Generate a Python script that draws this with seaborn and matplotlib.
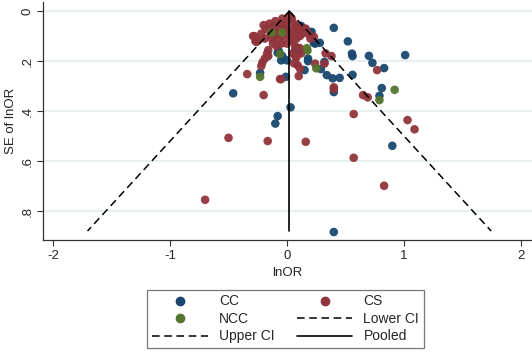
import numpy as np
import pandas as pd
import matplotlib
matplotlib.use('Agg')
import matplotlib.pyplot as plt
import seaborn as sns
from matplotlib.lines import Line2D

# study estimates (lnOR, SE of lnOR)
cc_lnor = [0.40, 0.52, 0.555, 0.56, 0.70, 0.73, 1.01, 0.83, 0.56, 0.45, 0.39, 0.34, 0.29,
           0.23, 0.28, 0.20, 0.12, 0.18, 0.18, 0.15, 0.09, 0.07, -0.05, 0.00, -0.08, -0.01,
           0.81, 0.79, 0.40, 0.03, -0.08, -0.10, 0.90, 0.40, 0.32, -0.46, -0.23, -0.06,
           0.21, 0.24, -0.07, -0.04, 0.11]
cc_se = [0.067, 0.121, 0.170, 0.180, 0.179, 0.207, 0.176, 0.228, 0.255, 0.267, 0.269, 0.256, 0.232,
         0.127, 0.127, 0.089, 0.059, 0.190, 0.200, 0.236, 0.150, 0.155, 0.197, 0.197, 0.167, 0.263,
         0.308, 0.339, 0.324, 0.385, 0.420, 0.450, 0.539, 0.884, 0.203, 0.329, 0.247, 0.172,
         0.083, 0.130, 0.160, 0.180, 0.160]

cs_lnor = [0.23, 0.38, 0.33, 0.32, 0.24, 0.12, 0.05, 0.11, 0.10, 0.06, -0.06, -0.05, 0.40, 0.40,
           0.65, 0.69, 0.77, 0.57, 1.03, 1.09, 0.16, -0.165, 0.57, 0.83, -0.70, -0.34, -0.20,
           -0.50, -0.28, -0.26, -0.20, -0.22, -0.21, -0.19, -0.17, -0.16, 0.09, -0.29, -0.25,
           -0.27, -0.18, -0.15, -0.12, -0.10, -0.08, -0.06, -0.04, -0.02, 0.00, 0.02, 0.04,
           0.06, 0.08, 0.10, 0.14, 0.16, -0.14, -0.10, -0.07, -0.03, 0.01, 0.03, 0.05, 0.08,
           0.11, -0.12, -0.09, -0.05, 0.00, 0.07, 0.11, 0.08, 0.07, -0.16, -0.02, -0.19, -0.22,
           0.13, 0.18, 0.20, -0.13, -0.11, 0.04, 0.06, -0.01]
cs_se = [0.103, 0.180, 0.169, 0.210, 0.210, 0.169, 0.169, 0.230, 0.260, 0.209, 0.272, 0.272, 0.312,
         0.305, 0.336, 0.345, 0.236, 0.412, 0.436, 0.473, 0.523, 0.520, 0.587, 0.699, 0.755, 0.252,
         0.336, 0.507, 0.100, 0.123, 0.056, 0.220, 0.205, 0.190, 0.170, 0.156, 0.216, 0.100,
         0.115, 0.120, 0.070, 0.050, 0.060, 0.040, 0.070, 0.050, 0.030, 0.060, 0.040, 0.020,
         0.030, 0.050, 0.060, 0.080, 0.070, 0.070, 0.090, 0.100, 0.110, 0.100, 0.090, 0.110,
         0.120, 0.110, 0.100, 0.130, 0.140, 0.130, 0.130, 0.140, 0.148, 0.185, 0.180, 0.180,
         0.080, 0.110, 0.090, 0.090, 0.090, 0.110, 0.110, 0.080, 0.075, 0.090, 0.055]

ncc_lnor = [-0.13, -0.04, -0.06, 0.17, 0.175, 0.25, 0.92, 0.79, -0.23]
ncc_se = [0.086, 0.086, 0.172, 0.148, 0.158, 0.229, 0.315, 0.356, 0.263]

pooled = 0.02
se_max = 0.88

df = pd.concat([
    pd.DataFrame({'lnOR': cc_lnor, 'se': cc_se, 'design': 'CC'}),
    pd.DataFrame({'lnOR': cs_lnor, 'se': cs_se, 'design': 'CS'}),
    pd.DataFrame({'lnOR': ncc_lnor, 'se': ncc_se, 'design': 'NCC'}),
], ignore_index=True)

sns.set_style('white')
plt.rcParams['font.family'] = ['Liberation Sans', 'DejaVu Sans']

palette = {'CC': '#1a476f', 'CS': '#90353b', 'NCC': '#55752f'}

fig = plt.figure(figsize=(5.32, 3.54), dpi=100)
ax = fig.add_axes([0.081, 0.322, 0.919, 0.672])

# horizontal grid like stata
for yv in [0, 0.2, 0.4, 0.6, 0.8]:
    ax.axhline(yv, color='#e2eef0', lw=1.2, zorder=0)

sns.scatterplot(data=df, x='lnOR', y='se', hue='design', palette=palette,
                hue_order=['CC', 'CS', 'NCC'], s=38, edgecolor='none', alpha=0.95,
                legend=False, ax=ax, zorder=2)

se_line = np.array([0, se_max])
ax.plot(pooled - 1.96 * se_line, se_line, color='black', lw=1.1, ls=(0, (5, 3)), zorder=3)
ax.plot(pooled + 1.96 * se_line, se_line, color='black', lw=1.1, ls=(0, (5, 3)), zorder=3)
ax.plot([pooled, pooled], se_line, color='black', lw=1.2, zorder=3)

ax.set_xlim(-2.085, 2.094)
ax.set_ylim(0.916, -0.036)
ax.set_xticks([-2, -1, 0, 1, 2])
ax.set_xticklabels(['-2', '-1', '0', '1', '2'])
ax.set_yticks([0, 0.2, 0.4, 0.6, 0.8])
ax.set_yticklabels(['0', '.2', '.4', '.6', '.8'], rotation=90, va='center')
ax.tick_params(axis='both', which='major', direction='out', length=4, width=0.8,
               color='#333333', labelsize=9.5, left=True, bottom=True, pad=3)
ax.set_xlabel('lnOR', fontsize=9.5, labelpad=4)
ax.set_ylabel('SE of lnOR', fontsize=9.5, labelpad=3)
for side in ['top', 'right']:
    ax.spines[side].set_visible(False)
for side in ['left', 'bottom']:
    ax.spines[side].set_color('#333333')
    ax.spines[side].set_linewidth(0.9)

handles = [
    Line2D([], [], marker='o', ls='none', color=palette['CC'], markersize=6),
    Line2D([], [], marker='o', ls='none', color=palette['CS'], markersize=6),
    Line2D([], [], marker='o', ls='none', color=palette['NCC'], markersize=6),
    Line2D([], [], color='black', lw=1.1, ls=(0, (5, 3))),
    Line2D([], [], color='black', lw=1.1, ls=(0, (5, 3))),
    Line2D([], [], color='black', lw=1.2),
]
labels = ['CC', 'CS', 'NCC', 'Lower CI', 'Upper CI', 'Pooled']
# stata fills legend row-wise; matplotlib fills column-wise, so reorder
order = [0, 2, 4, 1, 3, 5]
leg = fig.legend([handles[i] for i in order], [labels[i] for i in order],
                 loc='center', bbox_to_anchor=(0.537, 0.099), ncol=2, fontsize=10,
                 handlelength=4.0, columnspacing=1.6, handletextpad=0.8,
                 labelspacing=0.25, borderpad=0.35, fancybox=False, frameon=True)
leg.get_frame().set_edgecolor('#555555')
leg.get_frame().set_linewidth(0.9)

fig.savefig('out.png', dpi=100)
